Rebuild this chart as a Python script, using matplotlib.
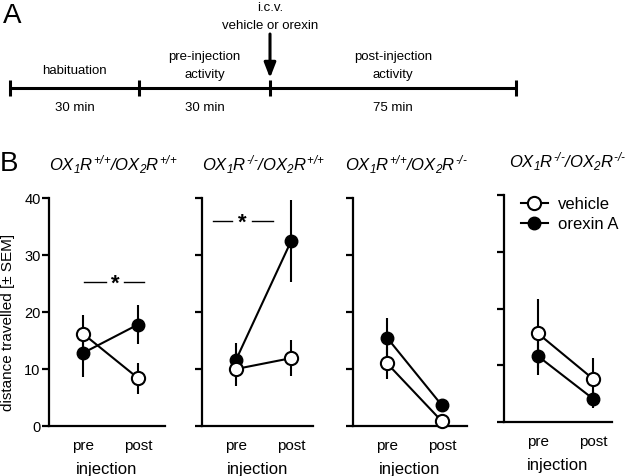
import matplotlib
matplotlib.use("Agg")
import matplotlib.pyplot as plt
from matplotlib.lines import Line2D

plt.rcParams['font.family'] = ['Liberation Sans', 'DejaVu Sans']
plt.rcParams['mathtext.fontset'] = 'custom'
plt.rcParams['mathtext.it'] = 'Liberation Sans:italic'
plt.rcParams['mathtext.rm'] = 'Liberation Sans:italic'
plt.rcParams['mathtext.default'] = 'it'

# ---------------- data ----------------
phases = ["pre", "post"]
titles = [r"$OX_1R^{\text{+/+}}/OX_2R^{\text{+/+}}$", r"$OX_1R^{\text{-/-}}/OX_2R^{\text{+/+}}$",
          r"$OX_1R^{\text{+/+}}/OX_2R^{\text{-/-}}$", r"$OX_1R^{\text{-/-}}/OX_2R^{\text{-/-}}$"]
vehicle_mean = [[16.2, 8.4], [10.0, 11.9], [11.0, 0.8], [15.6, 7.6]]
vehicle_sem = [[3.2, 2.7], [3.0, 3.2], [2.8, 0.5], [6.0, 3.7]]
orexin_mean = [[12.8, 17.8], [11.6, 32.4], [15.5, 3.6], [11.6, 4.1]]
orexin_sem = [[4.2, 3.4], [2.9, 7.2], [3.4, 0.6], [3.4, 1.6]]
yticks = [0, 10, 20, 30, 40]
timeline_labels = ["habituation", "pre-injection\nactivity", "post-injection\nactivity"]
timeline_durations = ["30 min", "30 min", "75 min"]
# schematic (not to scale) drawn widths of the timeline segments
timeline_widths = [129, 131, 246]

W, H = 626, 477
fig = plt.figure(figsize=(W / 100, H / 100), dpi=100)

def px_axes(x0, y0, x1, y1):
    return fig.add_axes([x0 / W, 1 - y1 / H, (x1 - x0) / W, (y1 - y0) / H])

# ---------------- panel A: timeline ----------------
edges = [0]
for w in timeline_widths:
    edges.append(edges[-1] + w)
axA = px_axes(10, 0, 10 + edges[-1], 150)
axA.set_xlim(edges[0], edges[-1])
axA.set_ylim(150, 0)
axA.axis('off')
axA.plot([edges[0], edges[-1]], [89, 89], color='black', lw=2.2,
         solid_capstyle='butt', clip_on=False)
for e in edges:
    axA.plot([e, e], [81, 97], color='black', lw=2.2, solid_capstyle='butt', clip_on=False)
for i in range(3):
    c = (edges[i] + edges[i + 1]) / 2
    yl = 71 if i == 0 else 66
    axA.text(c, yl, timeline_labels[i], ha='center', va='center', fontsize=9.5,
             linespacing=1.6)
    axA.text(c, 108, timeline_durations[i], ha='center', va='center', fontsize=9.5)
axA.text(edges[2], 17, "i.c.v.\nvehicle or orexin", ha='center', va='center',
         fontsize=9.5, linespacing=1.6)
axA.annotate("", xy=(edges[2], 79), xytext=(edges[2], 35),
             arrowprops=dict(arrowstyle='-|>,head_length=0.9,head_width=0.35',
                             color='black', lw=2.2, shrinkA=0, shrinkB=0))
fig.text(3 / W, 1 - 16 / H, "A", fontsize=20, ha='left', va='center')
fig.text(0 / W, 1 - 164 / H, "B", fontsize=20, ha='left', va='center')

# ---------------- panel B ----------------
boxes = [(49, 199, 165, 427), (202, 199, 313, 427), (353, 199, 467, 427), (504, 196, 612, 423)]
pre_px = [83, 236, 387, 538]
title_pos = [(113, 165), (263, 165), (406, 165), (567, 162)]
xs = [0, 1]
for k in range(4):
    x0, y0, x1, y1 = boxes[k]
    ax = px_axes(x0, y0, x1, y1)
    scale = 55.0
    ax.set_xlim(-(pre_px[k] - x0) / scale, (x1 - pre_px[k]) / scale)
    ax.set_ylim(0, 40)
    for s in ['top', 'right']:
        ax.spines[s].set_visible(False)
    for s in ['left', 'bottom']:
        ax.spines[s].set_linewidth(1.6)
    ax.set_yticks(yticks)
    ax.tick_params(axis='y', direction='out', length=5, width=1.6, labelsize=10.5, pad=1)
    ax.tick_params(axis='x', length=0, labelsize=11, pad=9)
    ax.set_xticks(xs)
    ax.set_xticklabels(phases)
    if k == 0:
        ax.set_ylabel("distance travelled [± SEM]", fontsize=11)
        ax.yaxis.set_label_coords(-(49 - 15) / (x1 - x0), 0.46)
    else:
        ax.set_yticklabels([])
    ax.set_xlabel("injection", fontsize=12, labelpad=6)
    ax.errorbar(xs, orexin_mean[k], yerr=orexin_sem[k], fmt='-o', color='black',
                mfc='black', mec='black', ms=9, lw=1.5, elinewidth=1.5, capsize=0,
                zorder=3, clip_on=False)
    ax.errorbar(xs, vehicle_mean[k], yerr=vehicle_sem[k], fmt='-o', color='black',
                mfc='white', mec='black', mew=1.5, ms=9.5, lw=1.5, elinewidth=1.5,
                capsize=0, zorder=4, clip_on=False)
    fig.text(title_pos[k][0] / W, 1 - title_pos[k][1] / H, titles[k], ha='center',
             va='center', fontsize=12)
    if k == 0:
        ax.plot([0.02, 0.42], [25.3, 25.3], color='black', lw=1)
        ax.plot([0.75, 1.1], [25.3, 25.3], color='black', lw=1)
        ax.text(0.58, 25.0, "*", ha='center', va='center', fontsize=16, fontweight='bold')
    if k == 1:
        ax.plot([-0.42, -0.07], [36, 36], color='black', lw=1)
        ax.plot([0.29, 0.67], [36, 36], color='black', lw=1)
        ax.text(0.11, 35.7, "*", ha='center', va='center', fontsize=16, fontweight='bold')
    if k == 3:
        h = [Line2D([], [], color='black', lw=1.5, marker='o', mfc='white', mec='black',
                    mew=1.5, ms=9.5),
             Line2D([], [], color='black', lw=1.5, marker='o', mfc='black', mec='black',
                    ms=9)]
        ax.legend(h, ["vehicle", "orexin A"], loc='upper left',
                  bbox_to_anchor=(0.02, 1.06), frameon=False, fontsize=12,
                  handlelength=1.6, handletextpad=0.6, labelspacing=0.3)

fig.savefig("out.png", dpi=100)
